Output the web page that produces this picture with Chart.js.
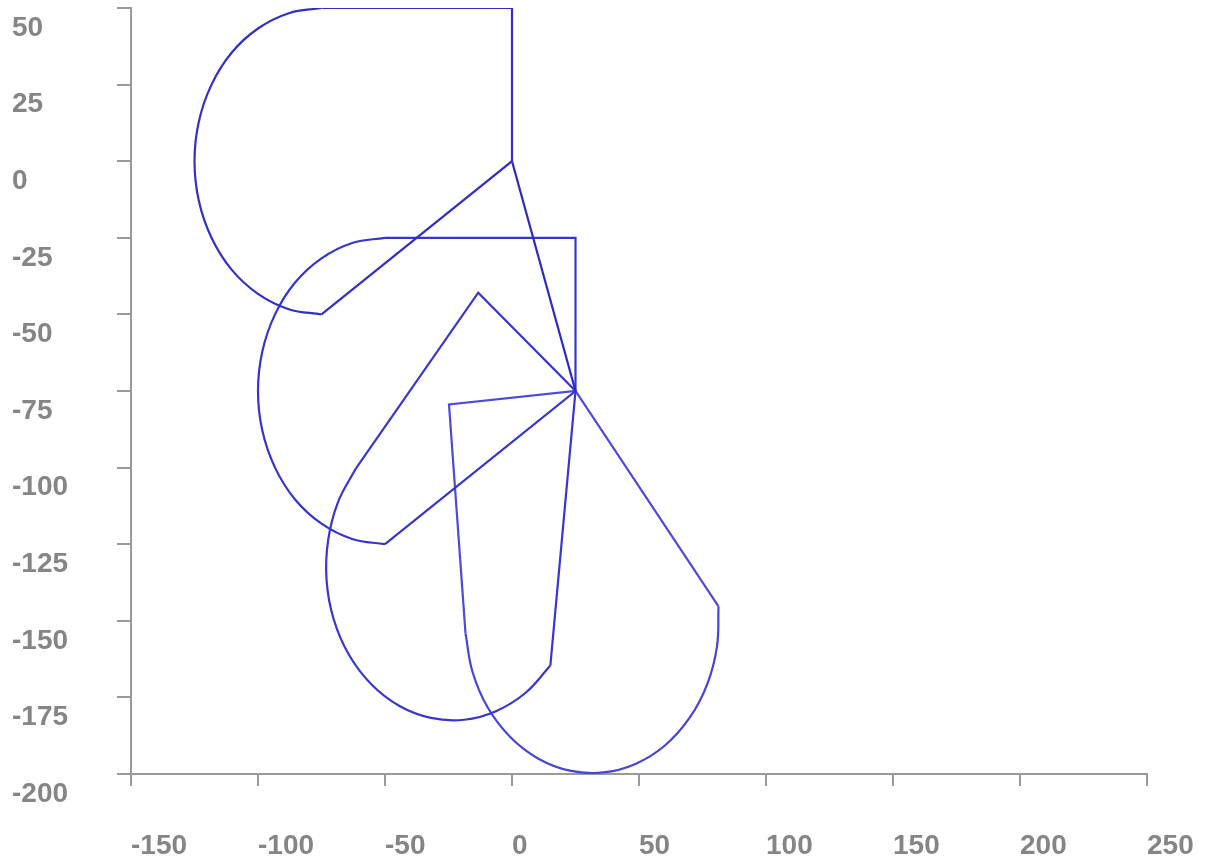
<!DOCTYPE html>
<html>
<head>
<meta charset="utf-8">
<script src="https://cdn.jsdelivr.net/npm/chart.js@4.4.1/dist/chart.umd.min.js"></script>
<style>
  html, body { margin: 0; padding: 0; background: #fff; }
  #wrap { width: 1207px; height: 865px; position: relative; }
</style>
</head>
<body>
<div id="wrap"><canvas id="shapes-chart"></canvas></div>
<script>
// tick labels
const xTicks = [-150, -100, -50, 0, 50, 100, 150, 200, 250];
const yTicks = [50, 25, 0, -25, -50, -75, -100, -125, -150, -175, -200];

// outlines, [x, y]
// straight edges: arc end -> corner -> ... -> arc start
const shape1Edges = [[-75, -50], [0, 0], [0, 50], [-75, 50]];
const shape1Arc = [
  [-75, 50], [-87.9, 48.3], [-100, 43.3], [-110.4, 35.4], [-118.3, 25], [-123.3, 12.9], [-125, 0],
  [-123.3, -12.9], [-118.3, -25], [-110.4, -35.4], [-100, -43.3], [-87.9, -48.3], [-75, -50]
];

const linkPoints = [[0, 0], [25, -75]];

const shape2Edges = [[-50, -125], [25, -75], [25, -25], [-50, -25]];
const shape2Arc = [
  [-50, -25], [-62.9, -26.7], [-75, -31.7], [-85.4, -39.6], [-93.3, -50], [-98.3, -62.1], [-100, -75],
  [-98.3, -87.9], [-93.3, -100], [-85.4, -110.4], [-75, -118.3], [-62.9, -123.3], [-50, -125]
];

const shape3Edges = [[15.1, -164.6], [25, -75], [-13.3, -42.9], [-61.5, -100.3]];
const shape3Arc = [
  [-61.5, -100.3], [-68.5, -111.3], [-72.4, -123.8], [-73, -136.8], [-70.2, -149.5], [-64.2, -161.1],
  [-55.3, -170.8], [-44.3, -177.8], [-31.9, -181.7], [-18.8, -182.3], [-6.1, -179.4], [5.5, -173.4],
  [15.1, -164.6]
];

const shape4Edges = [[81.3, -145.3], [25, -75], [-24.8, -79.4], [-18.3, -154.1]];
const shape4Arc = [
  [-18.3, -154.1], [-15.5, -166.8], [-9.5, -178.4], [-0.6, -188], [10.4, -195], [22.8, -198.9],
  [35.9, -199.5], [48.6, -196.7], [60.2, -190.7], [69.8, -181.8], [76.8, -170.8], [80.7, -158.4],
  [81.3, -145.3]
];

const app = () => {
  const toXY = pts => pts.map(p => ({ x: p[0], y: p[1] }));

  const lineSet = (pts, color, tension) => ({
    data: toXY(pts),
    showLine: true,
    borderColor: color,
    borderWidth: 2.2,
    pointRadius: 0,
    fill: false,
    tension: tension || 0
  });

  const tickFont = { family: '"Liberation Sans", Arial, sans-serif', size: 28, weight: 'bold' };

  new Chart(document.getElementById('shapes-chart'), {
    type: 'scatter',
    data: {
      datasets: [
        lineSet(shape1Edges, '#3030c8'),
        lineSet(shape1Arc, '#3030c8', 0.4),
        lineSet(linkPoints, '#2a2ac0'),
        lineSet(shape2Edges, '#3434d0'),
        lineSet(shape2Arc, '#3434d0', 0.4),
        lineSet(shape3Edges, '#3636d2'),
        lineSet(shape3Arc, '#3636d2', 0.4),
        lineSet(shape4Edges, '#4a4ade'),
        lineSet(shape4Arc, '#4444da', 0.4)
      ]
    },
    options: {
      responsive: true,
      maintainAspectRatio: false,
      animation: false,
      layout: { padding: { left: 12, right: 60, top: 8, bottom: 0 } },
      plugins: { legend: { display: false }, tooltip: { enabled: false } },
      scales: {
        x: {
          type: 'linear',
          min: xTicks[0],
          max: xTicks[xTicks.length - 1],
          afterBuildTicks: axis => { axis.ticks = xTicks.map(v => ({ value: v })); },
          afterFit: axis => {
            axis.height = 91;
            axis.paddingLeft = 0;
            axis.paddingRight = 0;
          },
          grid: { drawOnChartArea: false, drawTicks: true, tickLength: 12, color: '#9a9a9a', lineWidth: 2 },
          border: { display: true, color: '#9a9a9a', width: 2 },
          ticks: { align: 'start', padding: 43, color: '#858585', font: tickFont, maxRotation: 0, autoSkip: false }
        },
        y: {
          type: 'linear',
          min: yTicks[yTicks.length - 1],
          max: yTicks[0],
          afterBuildTicks: axis => { axis.ticks = yTicks.slice().reverse().map(v => ({ value: v })); },
          afterFit: axis => {
            axis.width = 119;
            axis.paddingTop = 0;
            axis.paddingBottom = 0;
          },
          grid: { drawOnChartArea: false, drawTicks: true, tickLength: 14, color: '#9a9a9a', lineWidth: 2 },
          border: { display: true, color: '#9a9a9a', width: 2 },
          ticks: { align: 'start', crossAlign: 'far', labelOffset: 6, color: '#858585', font: tickFont, autoSkip: false }
        }
      }
    }
  });
};

app();
</script>
</body>
</html>
